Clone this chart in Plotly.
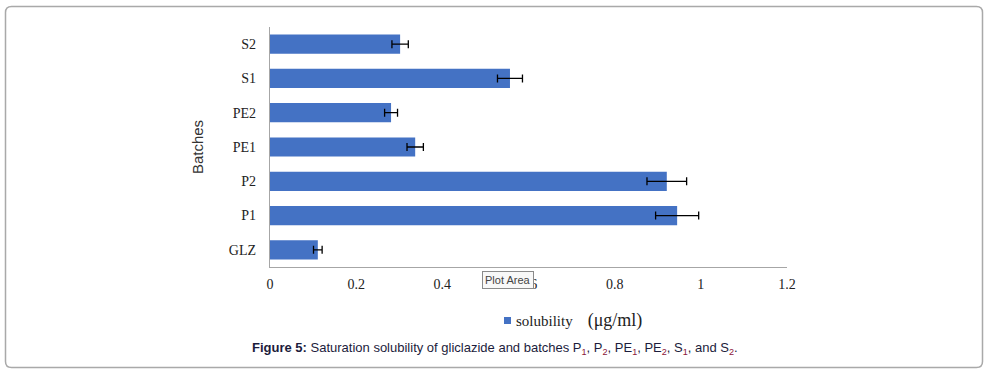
import plotly.graph_objects as go

categories = ["GLZ", "P1", "P2", "PE1", "PE2", "S1", "S2"]
solubility = [0.111, 0.945, 0.921, 0.337, 0.281, 0.557, 0.302]
error = [0.010, 0.050, 0.046, 0.019, 0.015, 0.029, 0.019]
x_ticks = [0, 0.2, 0.4, 0.6, 0.8, 1, 1.2]
x_tick_labels = ["0", "0.2", "0.4", "0.6", "0.8", "1", "1.2"]

W, H = 990, 375
L, R, T, B = 270, 787, 27, 267  # plot area in pixels

def px(x):
    return (x - L) / (R - L)

def py(y):
    return (B - y) / (B - T)

fig = go.Figure()
fig.add_trace(go.Bar(
    y=categories, x=solubility, orientation="h",
    marker=dict(color="#4472C4", line=dict(width=0)),
    width=0.56,
    error_x=dict(type="data", array=error, visible=True,
                 color="black", thickness=1.3, width=4),
    name="solubility", showlegend=False,
))

serif = "Liberation Serif, Times New Roman, serif"
sans = "Liberation Sans, Arial, sans-serif"

fig.update_layout(
    width=W, height=H,
    margin=dict(l=L, r=W - R, t=T, b=H - B),
    paper_bgcolor="white", plot_bgcolor="white",
    xaxis=dict(range=[0, 1.2], tickvals=x_ticks, ticktext=x_tick_labels,
               showgrid=False, zeroline=False, showline=True,
               linecolor="#a6a6a6", linewidth=1.3, ticks="",
               tickfont=dict(family=serif, size=14, color="#222"),
               ticklabelstandoff=4),
    yaxis=dict(showgrid=False, zeroline=False, showline=True,
               linecolor="#a6a6a6", linewidth=1.3, ticks="",
               tickfont=dict(family=serif, size=14, color="#222"),
               ticklabelstandoff=10,
               categoryorder="array", categoryarray=categories,
               title=dict(text="Batches", font=dict(family=sans, size=15, color="#333"),
                          standoff=21)),
    bargap=0.44,
)

def rrect(x0, y0, x1, y1, r):
    path = (f"M {px(x0 + r)},{py(y0)} L {px(x1 - r)},{py(y0)} "
            f"Q {px(x1)},{py(y0)} {px(x1)},{py(y0 + r)} "
            f"L {px(x1)},{py(y1 - r)} Q {px(x1)},{py(y1)} {px(x1 - r)},{py(y1)} "
            f"L {px(x0 + r)},{py(y1)} Q {px(x0)},{py(y1)} {px(x0)},{py(y1 - r)} "
            f"L {px(x0)},{py(y0 + r)} Q {px(x0)},{py(y0)} {px(x0 + r)},{py(y0)} Z")
    return path

fig.add_shape(type="path", xref="paper", yref="paper",
              path=rrect(5.5, 6.5, 982.5, 367.5, 6),
              line=dict(color="#a9a9a9", width=1.5), layer="below")

# manual legend
fig.add_shape(type="rect", xref="paper", yref="paper",
              x0=px(504), x1=px(511), y0=py(324), y1=py(317),
              fillcolor="#4472C4", line=dict(width=0))
fig.add_annotation(xref="paper", yref="paper", x=px(514), y=py(320),
                   xanchor="left", yanchor="middle", showarrow=False,
                   text="solubility&nbsp;&nbsp;&nbsp;&nbsp;<span style='font-size:18px'>(μg/ml)</span>",
                   font=dict(family=serif, size=15, color="#222"))

# caption
sub = lambda s: f"<sub><span style='color:#8b1538'>{s}</span></sub>"
caption = ("<b>Figure 5:</b> Saturation solubility of gliclazide and batches "
           f"P{sub(1)}, P{sub(2)}, PE{sub(1)}, PE{sub(2)}, S{sub(1)}, and S{sub(2)}.")
fig.add_annotation(xref="paper", yref="paper", x=px(495), y=py(348),
                   xanchor="center", yanchor="middle", showarrow=False,
                   text=caption, font=dict(family=sans, size=13, color="#1c1c3c"))

# tooltip artifact
fig.add_annotation(xref="paper", yref="paper", x=px(508), y=py(280),
                   xanchor="center", yanchor="middle", showarrow=False,
                   text="Plot Area", font=dict(family=sans, size=11, color="#444"),
                   bgcolor="#f8f8f8", bordercolor="#8a8a8a", borderwidth=1, borderpad=2)

fig.write_html("out.html", config={"displayModeBar": False},
               post_script="document.body.style.margin='0';document.body.style.overflow='hidden';")
